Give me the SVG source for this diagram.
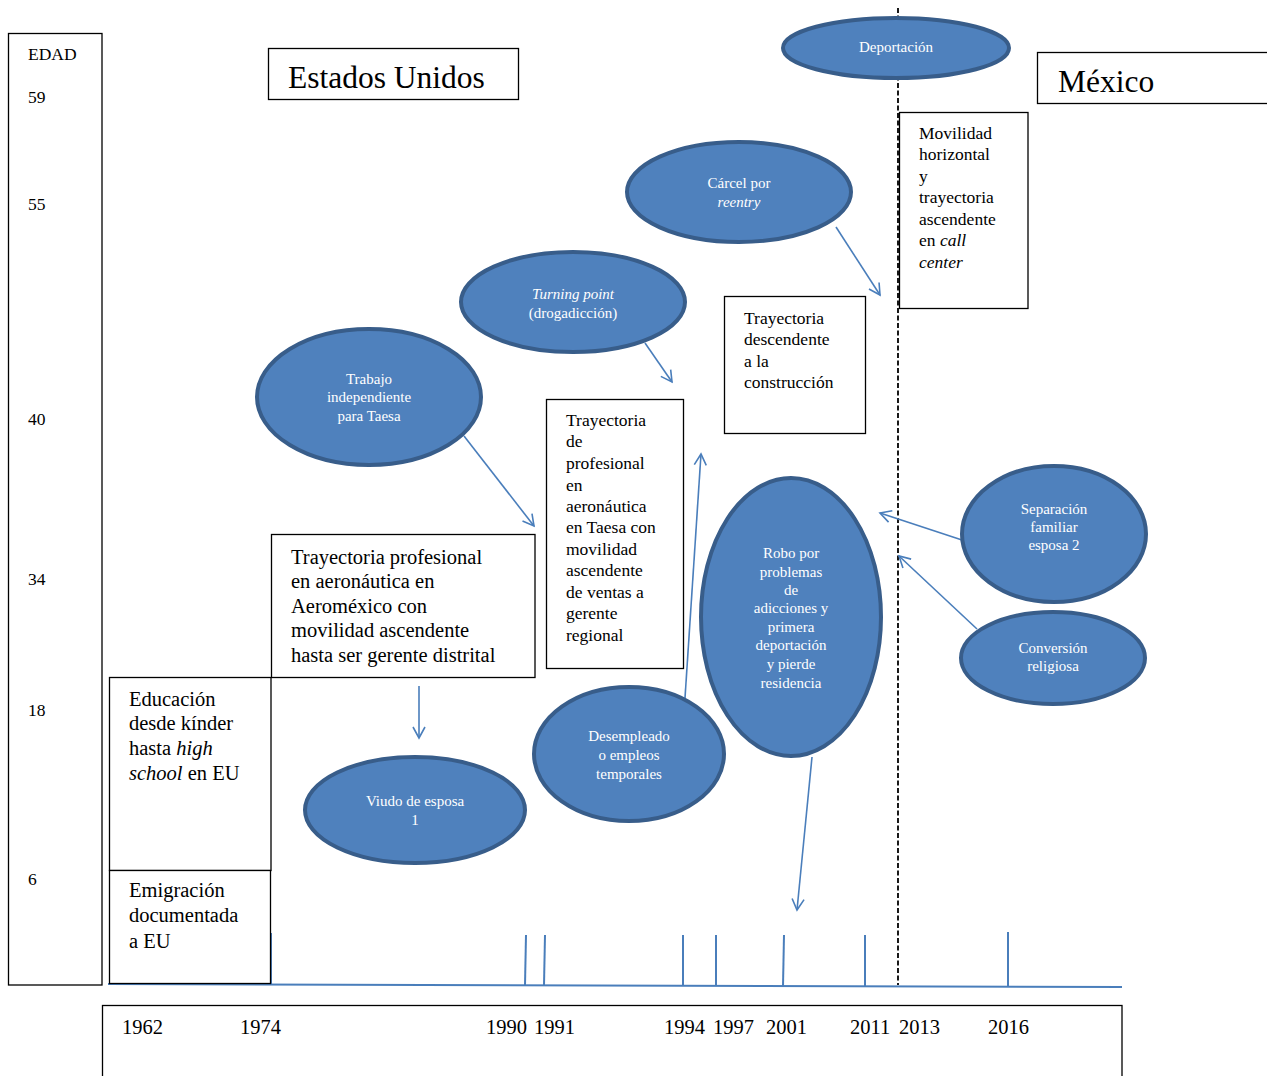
<svg xmlns="http://www.w3.org/2000/svg" width="1267" height="1076" viewBox="0 0 1267 1076">
  <style>
    .box { fill: #ffffff; stroke: #000000; stroke-width: 1.3; }
    .node { fill: #4f81bd; stroke: #385d8a; stroke-width: 4; }
    .t { font-family: "Liberation Serif", "Times New Roman", serif; fill: #000000; }
    .bt { font-size: 17.5px; }
    .big { font-size: 20.5px; }
    .et { font-family: "Liberation Serif", "Times New Roman", serif; font-size: 15px; fill: #ffffff; text-anchor: middle; }
    .conn { stroke: #4a7ebb; stroke-width: 1.6; fill: none; }
    .tick { stroke: #4a7ebb; stroke-width: 2; }
  </style>
  <defs>
    <marker id="open" markerWidth="14" markerHeight="14" refX="12" refY="7" orient="auto" markerUnits="userSpaceOnUse">
      <path d="M1,1 L12,7 L1,13" fill="none" stroke="#4a7ebb" stroke-width="1.6"/>
    </marker>
  </defs>
  <rect width="1267" height="1076" fill="#ffffff"/>

  <!-- age axis -->
  <g id="edad">
    <rect class="box" x="8.5" y="33.5" width="93.5" height="951.5"/>
    <text class="t bt" x="28" y="60">EDAD</text>
    <text class="t bt" x="28" y="103">59</text>
    <text class="t bt" x="28" y="210">55</text>
    <text class="t bt" x="28" y="425">40</text>
    <text class="t bt" x="28" y="585">34</text>
    <text class="t bt" x="28" y="716">18</text>
    <text class="t bt" x="28" y="885">6</text>
  </g>

  <!-- country headers -->
  <g id="estados-unidos">
    <rect class="box" x="268.5" y="48.5" width="250" height="51"/>
    <text class="t" x="288" y="88" font-size="31.5">Estados Unidos</text>
  </g>
  <g id="mexico">
    <rect class="box" x="1037.5" y="52.5" width="240" height="51"/>
    <text class="t" x="1058" y="92" font-size="31.5">México</text>
  </g>

  <!-- border line -->
  <line x1="898" y1="8" x2="898" y2="985" stroke="#000000" stroke-width="1.8" stroke-dasharray="5,2.5"/>

  <!-- connectors -->
  <g id="connectors">
    <line class="conn" x1="836" y1="227" x2="880" y2="295" marker-end="url(#open)"/>
    <line class="conn" x1="645" y1="343" x2="672" y2="382" marker-end="url(#open)"/>
    <line class="conn" x1="464" y1="436" x2="534" y2="526" marker-end="url(#open)"/>
    <line class="conn" x1="685" y1="698" x2="701" y2="454" marker-end="url(#open)"/>
    <line class="conn" x1="812" y1="757" x2="797" y2="910" marker-end="url(#open)"/>
    <line class="conn" x1="962" y1="540" x2="880" y2="513" marker-end="url(#open)"/>
    <line class="conn" x1="977" y1="629" x2="899" y2="556" marker-end="url(#open)"/>
    <line class="conn" x1="419" y1="686" x2="419" y2="738" marker-end="url(#open)"/>
  </g>

  <!-- timeline -->
  <g id="timeline">
    <line class="tick" x1="108" y1="984" x2="1122" y2="987"/>
    <line class="tick" x1="271" y1="933" x2="271" y2="984"/>
    <line class="tick" x1="526" y1="935" x2="525" y2="985"/>
    <line class="tick" x1="545" y1="935" x2="544" y2="985"/>
    <line class="tick" x1="683" y1="935" x2="683" y2="985"/>
    <line class="tick" x1="716" y1="935" x2="716" y2="985"/>
    <line class="tick" x1="784" y1="935" x2="783" y2="986"/>
    <line class="tick" x1="865" y1="935" x2="865" y2="986"/>
    <line class="tick" x1="1008" y1="932" x2="1008" y2="987"/>
  </g>

  <g id="anios">
    <rect class="box" x="102.5" y="1005.5" width="1019.5" height="80"/>
    <text class="t big" x="122" y="1034">1962</text>
    <text class="t big" x="240" y="1034">1974</text>
    <text class="t big" x="486" y="1034">1990</text>
    <text class="t big" x="534" y="1034">1991</text>
    <text class="t big" x="664" y="1034">1994</text>
    <text class="t big" x="713" y="1034">1997</text>
    <text class="t big" x="766" y="1034">2001</text>
    <text class="t big" x="850" y="1034">2011</text>
    <text class="t big" x="899" y="1034">2013</text>
    <text class="t big" x="988" y="1034">2016</text>
  </g>

  <!-- text boxes -->
  <g id="educacion">
    <rect class="box" x="109.5" y="677.5" width="161.5" height="193"/>
    <text class="t big" x="129" y="706">Educación</text>
    <text class="t big" x="129" y="730">desde kínder</text>
    <text class="t big" x="129" y="755">hasta <tspan font-style="italic">high</tspan></text>
    <text class="t big" x="129" y="780"><tspan font-style="italic">school</tspan> en EU</text>
  </g>
  <g id="emigracion">
    <rect class="box" x="109.5" y="870.5" width="161" height="113"/>
    <text class="t big" x="129" y="897">Emigración</text>
    <text class="t big" x="129" y="922">documentada</text>
    <text class="t big" x="129" y="948">a EU</text>
  </g>
  <g id="aeromexico">
    <rect class="box" x="271.5" y="534.5" width="263.5" height="143"/>
    <text class="t big" x="291" y="564">Trayectoria profesional</text>
    <text class="t big" x="291" y="588">en aeronáutica en</text>
    <text class="t big" x="291" y="613">Aeroméxico con</text>
    <text class="t big" x="291" y="637">movilidad ascendente</text>
    <text class="t big" x="291" y="662">hasta ser gerente distrital</text>
  </g>
  <g id="taesa">
    <rect class="box" x="546.5" y="399.5" width="137" height="269"/>
    <text class="t bt" x="566" y="426">Trayectoria</text>
    <text class="t bt" x="566" y="447">de</text>
    <text class="t bt" x="566" y="469">profesional</text>
    <text class="t bt" x="566" y="491">en</text>
    <text class="t bt" x="566" y="512">aeronáutica</text>
    <text class="t bt" x="566" y="533">en Taesa con</text>
    <text class="t bt" x="566" y="555">movilidad</text>
    <text class="t bt" x="566" y="576">ascendente</text>
    <text class="t bt" x="566" y="598">de ventas a</text>
    <text class="t bt" x="566" y="619">gerente</text>
    <text class="t bt" x="566" y="641">regional</text>
  </g>
  <g id="construccion">
    <rect class="box" x="724.5" y="296.5" width="141" height="137"/>
    <text class="t bt" x="744" y="324">Trayectoria</text>
    <text class="t bt" x="744" y="345">descendente</text>
    <text class="t bt" x="744" y="367">a la</text>
    <text class="t bt" x="744" y="388">construcción</text>
  </g>
  <g id="call-center">
    <rect class="box" x="899.5" y="112.5" width="128.5" height="196"/>
    <text class="t bt" x="919" y="139">Movilidad</text>
    <text class="t bt" x="919" y="160">horizontal</text>
    <text class="t bt" x="919" y="182">y</text>
    <text class="t bt" x="919" y="203">trayectoria</text>
    <text class="t bt" x="919" y="225">ascendente</text>
    <text class="t bt" x="919" y="246">en <tspan font-style="italic">call</tspan></text>
    <text class="t bt" x="919" y="268" font-style="italic">center</text>
  </g>

  <!-- event ellipses -->
  <g id="deportacion">
    <ellipse class="node" cx="896" cy="48" rx="113" ry="30"/>
    <text class="et" x="896" y="52">Deportación</text>
  </g>
  <g id="carcel">
    <ellipse class="node" cx="739" cy="192" rx="112" ry="50"/>
    <text class="et" x="739" y="188">Cárcel por</text>
    <text class="et" x="739" y="207" font-style="italic">reentry</text>
  </g>
  <g id="turning-point">
    <ellipse class="node" cx="573" cy="302" rx="112" ry="50"/>
    <text class="et" x="573" y="299" font-style="italic">Turning point</text>
    <text class="et" x="573" y="318">(drogadicción)</text>
  </g>
  <g id="trabajo-taesa">
    <ellipse class="node" cx="369" cy="397" rx="112" ry="68"/>
    <text class="et" x="369" y="384">Trabajo</text>
    <text class="et" x="369" y="402">independiente</text>
    <text class="et" x="369" y="421">para Taesa</text>
  </g>
  <g id="robo">
    <ellipse class="node" cx="791" cy="617" rx="90" ry="139"/>
    <text class="et" x="791" y="558">Robo por</text>
    <text class="et" x="791" y="577">problemas</text>
    <text class="et" x="791" y="595">de</text>
    <text class="et" x="791" y="613">adicciones y</text>
    <text class="et" x="791" y="632">primera</text>
    <text class="et" x="791" y="650">deportación</text>
    <text class="et" x="791" y="669">y pierde</text>
    <text class="et" x="791" y="688">residencia</text>
  </g>
  <g id="separacion">
    <ellipse class="node" cx="1054" cy="534" rx="92" ry="68"/>
    <text class="et" x="1054" y="514">Separación</text>
    <text class="et" x="1054" y="532">familiar</text>
    <text class="et" x="1054" y="550">esposa 2</text>
  </g>
  <g id="conversion">
    <ellipse class="node" cx="1053" cy="658" rx="92" ry="46"/>
    <text class="et" x="1053" y="653">Conversión</text>
    <text class="et" x="1053" y="671">religiosa</text>
  </g>
  <g id="desempleado">
    <ellipse class="node" cx="629" cy="754" rx="95" ry="67"/>
    <text class="et" x="629" y="741">Desempleado</text>
    <text class="et" x="629" y="760">o empleos</text>
    <text class="et" x="629" y="779">temporales</text>
  </g>
  <g id="viudo">
    <ellipse class="node" cx="415" cy="810" rx="110" ry="53"/>
    <text class="et" x="415" y="806">Viudo de esposa</text>
    <text class="et" x="415" y="825">1</text>
  </g>
</svg>
